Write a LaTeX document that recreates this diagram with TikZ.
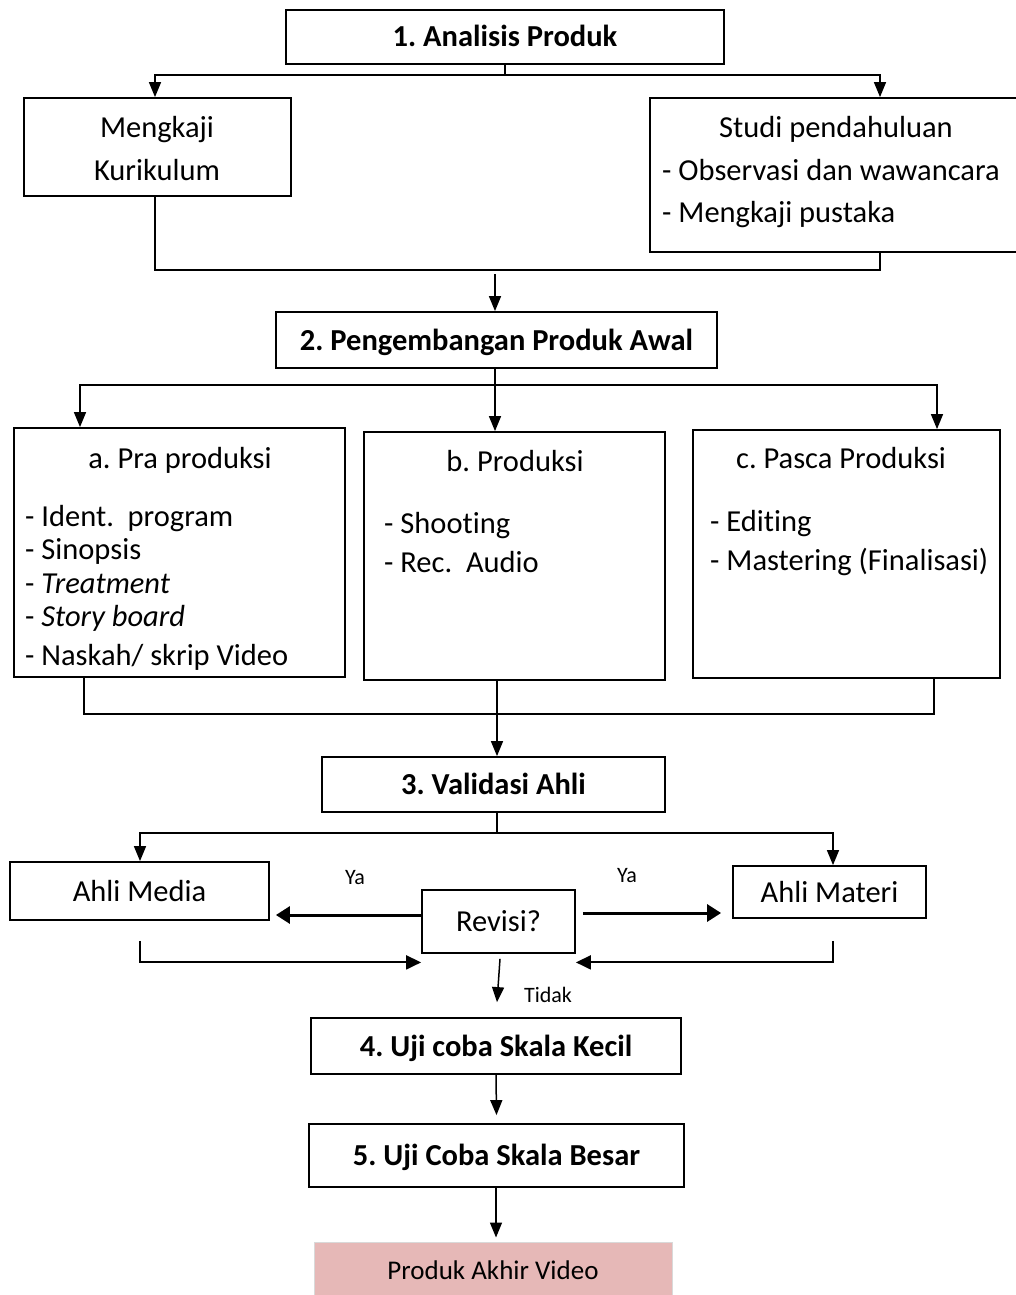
\documentclass[tikz,border=0pt]{standalone}
\usepackage{fontspec}
\setmainfont[Ligatures=NoCommon]{Carlito}
\usetikzlibrary{arrows.meta,calc}
\definecolor{pinkfill}{RGB}{230,184,183}
\frenchspacing
\tikzset{
 box/.style={draw=black,line width=1.8pt,inner sep=0pt,text height=20pt,text depth=0pt,font=\fontsize{30.5}{36}\selectfont},
 title/.style={box,font=\fontsize{30.5}{36}\selectfont\bfseries},
 txt/.style={inner sep=0pt,font=\fontsize{30.5}{36}\selectfont,anchor=base west},
 ctxt/.style={inner sep=0pt,font=\fontsize{30.5}{36}\selectfont,anchor=base},
 lbl/.style={inner sep=0pt,font=\fontsize{22}{26}\selectfont,anchor=base},
 link/.style={line width=1.5pt},
 arr/.style={line width=1.5pt,-{Triangle[length=15pt,width=12pt]}},
 midarr/.style={line width=2pt,-{Triangle[length=15pt,width=14pt]}},
 thickarr/.style={line width=3pt,-{Triangle[length=14pt,width=17pt]}},
}
\begin{document}
\begin{tikzpicture}[x=1pt,y=-1pt]
\useasboundingbox (0,0) rectangle (1016,1295);
\fill[white] (0,0) rectangle (1016,1295);

% Step 1
\node[title,minimum width=438pt,minimum height=54pt] (b1) at (505,37) {1. Analisis Produk};
\node[box,minimum width=267pt,minimum height=98pt] (mk) at (157.5,147) {};
\node[ctxt] (mk1) at (157,138) {Mengkaji};
\node[ctxt] (mk2) at (157,180) {Kurikulum};
\node[box,minimum width=370pt,minimum height=154pt] (studi) at (835,175) {};
\node[ctxt] (st0) at (836,138) {Studi pendahuluan};
\node[txt] (st1) at (662,180) {- Observasi dan wawancara};
\node[txt] (st2) at (662,222) {- Mengkaji pustaka};

\coordinate (f1) at (505,75);
\draw[link] (b1.south) -- (f1);
\draw[arr] (f1) -| ([xshift=-2.5pt]mk.north);
\draw[arr] (f1) -| ([xshift=45pt]studi.north);
\coordinate (j1) at (495,270);
\draw[link] ([xshift=-2.5pt]mk.south) |- (j1) -| ([xshift=45pt]studi.south);

% Step 2
\node[title,minimum width=441pt,minimum height=56pt] (b2) at (496.5,340) {2. Pengembangan Produk Awal};
\draw[arr] ([yshift=-4pt]j1) -- (b2.north -| j1);

\node[box,minimum width=331pt,minimum height=249pt] (pa) at (179.5,552.5) {};
\node[box,minimum width=301pt,minimum height=248pt] (pb) at (514.5,556) {};
\node[box,minimum width=307pt,minimum height=248pt] (pc) at (846.5,554) {};

\node[ctxt] (pa0) at (180,468) {a. Pra produksi};
\node[txt] (pa1) at (25,526) {- Ident.\ \ program};
\node[txt] (pa2) at (25,559) {- Sinopsis};
\node[txt] (pa3) at (25,593) {- \textit{Treatment}};
\node[txt] (pa4) at (25,626) {- \textit{Story board}};
\node[txt] (pa5) at (25,665) {- Naskah/ skrip Video};

\node[ctxt] (pb0) at (515,471) {b. Produksi};
\node[txt] (pb1) at (384,533) {- Shooting};
\node[txt] (pb2) at (384,572) {- Rec.\ \ Audio};

\node[ctxt] (pc0) at (841,468) {c. Pasca Produksi};
\node[txt] (pc1) at (710,531) {- Editing};
\node[txt] (pc2) at (710,570) {- Mastering (Finalisasi)};

\coordinate (f2) at (495,385);
\draw[arr] (b2.south -| f2) -- (pb.north -| f2);
\draw[arr] (f2) -| ([xshift=-99.5pt]pa.north);
\draw[arr] (f2) -| ([xshift=90.5pt]pc.north);

% Step 3
\node[title,minimum width=343pt,minimum height=55pt] (b3) at (493.5,784.5) {3. Validasi Ahli};
\coordinate (j2) at (497,714);
\draw[link] ([xshift=-95.5pt]pa.south) |- (j2) -| ([xshift=87.5pt]pc.south);
\draw[arr] ([xshift=-17.5pt]pb.south) -- (b3.north -| j2);

\node[box,minimum width=259pt,minimum height=58pt] (am) at (139.5,891) {Ahli Media};
\node[box,minimum width=193pt,minimum height=52pt] (amt) at (829.5,892) {Ahli Materi};
\node[box,minimum width=153pt,minimum height=63pt] (rev) at (498.5,921.5) {Revisi?};

\coordinate (f3) at (497,833);
\draw[link] (b3.south -| f3) -- (f3);
\draw[arr] (f3) -| ([xshift=0.5pt]am.north);
\draw[arr] (f3) -| ([xshift=3.5pt]amt.north);

\coordinate (ra) at ($(rev.west)+(0,-6.5)$);
\draw[thickarr] (ra) -- ($(am.east |- ra)+(6,0)$);
\coordinate (rb) at ($(rev.east)+(7,-8.5)$);
\draw[thickarr] (rb) -- ($(amt.west |- rb)+(-11,0)$);

\node[lbl] (ya1) at (355,884) {Ya};
\node[lbl] (ya2) at (627,882) {Ya};

\coordinate (ra2) at ($(am.south)+(0.5,20)$);
\draw[midarr] (ra2) |- ($(rev.south west)+(0,8.5)$);
\coordinate (rb2) at ($(amt.south)+(3.5,22)$);
\draw[midarr] (rb2) |- ($(rev.south east)+(0,8.5)$);

% Step 4, 5
\node[title,minimum width=370pt,minimum height=56pt] (b4) at (496,1046) {4. Uji coba Skala Kecil};
\draw[arr] ($(rev.south)+(1.5,5)$) -- ($(b4.north)+(1,-15)$);
\node[lbl] (tidak) at (548,1002) {Tidak};

\node[title,minimum width=375pt,minimum height=63pt] (b5) at (496.5,1155.5) {5. Uji Coba Skala Besar};
\draw[arr] (b4.south) -- ($(b5.north)+(0,-8)$);

\node[fill=pinkfill,draw=gray!30,line width=1pt,minimum width=358pt,minimum height=58pt,inner sep=0pt,text height=17pt,text depth=0pt,font=\fontsize{27}{32}\selectfont] (fin) at (493,1271) {Produk Akhir Video};
\draw[arr] (b5.south -| b4.south) -- ($(fin.north -| b4.south)+(0,-4)$);
\end{tikzpicture}
\end{document}
